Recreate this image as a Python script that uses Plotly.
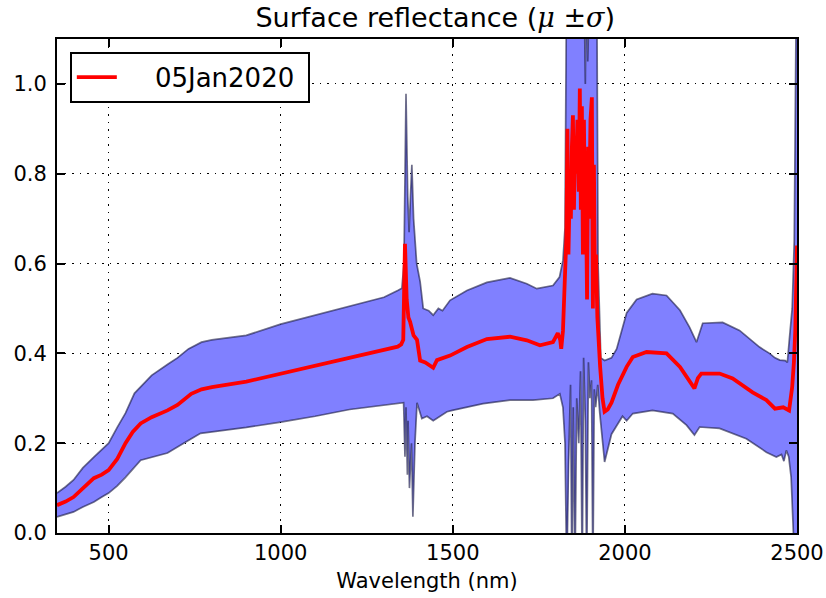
import plotly.graph_objects as go

# ---- data ----
wl_mean = [350, 375, 398, 425, 457, 480, 500, 525, 549, 570,
           593, 625, 671, 700, 740, 770, 800, 900, 1000, 1100,
           1200, 1300, 1340, 1350, 1356, 1361, 1366, 1371, 1376, 1386,
           1396, 1405, 1420, 1443, 1454, 1492, 1541, 1599, 1666, 1715,
           1753, 1791, 1805, 1812, 1815, 1820, 1825, 1830, 1833, 1836,
           1840, 1843, 1846, 1849, 1852, 1855, 1858, 1862, 1866, 1869,
           1872, 1875, 1878, 1881, 1884, 1887, 1890, 1893, 1896, 1900,
           1904, 1907, 1910, 1913, 1916, 1920, 1928, 1935, 1941, 1950,
           1961, 1980, 2005, 2023, 2063, 2121, 2160, 2188, 2202, 2212,
           2222, 2275, 2313, 2371, 2411, 2436, 2460, 2477, 2486, 2491,
           2495, 2500]
refl_mean = [0.062, 0.07, 0.08, 0.098, 0.122, 0.13, 0.14, 0.165, 0.2, 0.225,
             0.244, 0.258, 0.273, 0.285, 0.31, 0.32, 0.325, 0.337, 0.355, 0.372,
             0.39, 0.408, 0.415, 0.42, 0.43, 0.644, 0.52, 0.48, 0.47, 0.44,
             0.43, 0.384, 0.38, 0.368, 0.385, 0.395, 0.414, 0.432, 0.437, 0.429,
             0.418, 0.425, 0.445, 0.43, 0.41, 0.45, 0.55, 0.66, 0.9, 0.62,
             0.78, 0.7, 0.86, 0.93, 0.72, 0.88, 0.8, 0.92, 0.76, 0.99,
             0.72, 0.95, 0.62, 0.92, 0.66, 0.74, 0.52, 0.86, 0.7, 0.92,
             0.97, 0.5, 0.82, 0.55, 0.62, 0.48, 0.37, 0.3, 0.27, 0.275,
             0.29, 0.33, 0.37, 0.392, 0.403, 0.4, 0.37, 0.34, 0.322, 0.345,
             0.355, 0.355, 0.344, 0.313, 0.296, 0.277, 0.28, 0.273, 0.325, 0.38,
             0.45, 0.64]

wl_upper = [350, 375, 398, 425, 457, 480, 500, 525, 549, 575,
            625, 674, 700, 732, 770, 800, 900, 1000, 1100, 1200,
            1300, 1340, 1352, 1358, 1364, 1369, 1373, 1377, 1381, 1386,
            1395, 1405, 1414, 1430, 1443, 1458, 1470, 1492, 1541, 1599,
            1666, 1715, 1744, 1791, 1810, 1820, 1826, 1831, 1840, 1860,
            1880, 1885, 1888, 1892, 1900, 1918, 1922, 1930, 1941, 1961,
            1976, 2005, 2034, 2080, 2121, 2160, 2188, 2208, 2226, 2284,
            2333, 2391, 2420, 2436, 2450, 2466, 2472, 2480, 2486, 2492,
            2497, 2500]
refl_upper = [0.089, 0.103, 0.118, 0.145, 0.169, 0.185, 0.2, 0.235, 0.267, 0.311,
              0.351, 0.377, 0.39, 0.41, 0.425, 0.43, 0.44, 0.465, 0.485, 0.505,
              0.525, 0.54, 0.545, 0.6, 0.978, 0.75, 0.67, 0.75, 0.82, 0.7,
              0.6, 0.56, 0.5, 0.495, 0.485, 0.5, 0.495, 0.518, 0.54, 0.558,
              0.568, 0.555, 0.544, 0.551, 0.57, 0.607, 0.68, 1.3, 1.3, 1.3,
              1.3, 1.0, 1.3, 1.05, 1.3, 1.3, 0.6, 0.39, 0.384, 0.39,
              0.41, 0.49, 0.52, 0.533, 0.529, 0.496, 0.458, 0.425, 0.467, 0.469,
              0.451, 0.414, 0.4, 0.39, 0.385, 0.384, 0.38, 0.45, 0.5, 0.65,
              1.1, 1.4]

wl_lower = [350, 375, 398, 425, 457, 480, 500, 525, 549, 593,
            671, 718, 767, 800, 900, 1000, 1100, 1200, 1300, 1350,
            1357, 1361, 1364, 1368, 1370, 1374, 1380, 1384, 1390, 1396,
            1410, 1425, 1443, 1483, 1498, 1588, 1666, 1733, 1791, 1811,
            1820, 1826, 1831, 1836, 1842, 1846, 1850, 1855, 1860, 1866,
            1871, 1876, 1880, 1885, 1889, 1894, 1898, 1903, 1907, 1911,
            1915, 1921, 1927, 1941, 1961, 1993, 2005, 2023, 2080, 2139,
            2179, 2202, 2217, 2275, 2353, 2411, 2440, 2455, 2462, 2469,
            2476, 2483, 2490, 2500]
refl_lower = [0.036, 0.042, 0.047, 0.058, 0.069, 0.08, 0.089, 0.105, 0.124, 0.162,
              0.178, 0.2, 0.222, 0.225, 0.235, 0.247, 0.26, 0.275, 0.285, 0.29,
              0.29, 0.17, 0.28, 0.13, 0.25, 0.1, 0.2, 0.036, 0.2, 0.29,
              0.255, 0.26, 0.25, 0.27, 0.273, 0.288, 0.296, 0.296, 0.3, 0.31,
              0.28, 0.2, -0.1, 0.15, 0.33, -0.1, 0.28, -0.1, 0.3, 0.2,
              0.36, -0.1, 0.39, 0.25, -0.1, 0.38, 0.3, 0.34, -0.1, 0.32,
              0.28, 0.33, 0.267, 0.158, 0.22, 0.26, 0.25, 0.266, 0.273, 0.266,
              0.24, 0.218, 0.236, 0.233, 0.21, 0.18, 0.169, 0.175, 0.16, 0.184,
              0.17, 0.124, 0.0, -0.2]

x_ticks = [500, 1000, 1500, 2000, 2500]
y_ticks = [0.0, 0.2, 0.4, 0.6, 0.8, 1.0]
y_ticklabels = ["0.0", "0.2", "0.4", "0.6", "0.8", "1.0"]
legend_label = "05Jan2020"

FONT = "DejaVu Sans"

fig = go.Figure()

# sigma band (closed polygon upper -> reversed lower)
fig.add_trace(go.Scatter(
    x=wl_upper + wl_lower[::-1],
    y=refl_upper + refl_lower[::-1],
    fill="toself", fillcolor="rgb(128,128,255)",
    line=dict(width=0), mode="lines", showlegend=False, hoverinfo="skip"))

for wx, wy in ((wl_upper, refl_upper), (wl_lower, refl_lower)):
    fig.add_trace(go.Scatter(
        x=wx, y=wy, mode="lines",
        line=dict(color="rgba(20,20,60,0.6)", width=1.7),
        showlegend=False, hoverinfo="skip"))

fig.add_trace(go.Scatter(
    x=wl_mean, y=refl_mean, mode="lines",
    name="\u00a0\u00a0\u00a0\u00a0" + legend_label + "\u00a0",
    line=dict(color="#ff0000", width=3.8)))

axis_common = dict(
    showline=True, linecolor="black", linewidth=2, mirror="ticks",
    ticks="inside", ticklen=8, tickwidth=1.5, tickcolor="black",
    showgrid=True, gridcolor="black", gridwidth=1.3, griddash="1.5px,6px",
    zeroline=False, automargin=False,
    tickfont=dict(family=FONT, size=21, color="black"),
)

fig.update_xaxes(range=[350, 2500], tickvals=x_ticks,
                 title=dict(text="Wavelength (nm)",
                            font=dict(family=FONT, size=21, color="black"),
                            standoff=9),
                 **axis_common)
fig.update_yaxes(range=[0, 1.1], tickvals=y_ticks, ticktext=y_ticklabels,
                 ticklabelstandoff=4, **axis_common)

fig.update_layout(
    width=826, height=598,
    margin=dict(l=57, r=29, t=39, b=65),
    paper_bgcolor="white", plot_bgcolor="white",
    title=dict(
        text="Surface reflectance (<span style='font-family:DejaVu Serif'><i>\u03bc</i> \u00b1<i>\u03c3</i></span>)",
        font=dict(family=FONT, size=27, color="black"),
        x=0.527, xanchor="center", y=0.971, yanchor="middle", yref="container"),
    legend=dict(x=0.0176, y=0.974, xanchor="left", yanchor="top",
                bgcolor="white", bordercolor="black", borderwidth=1.8,
                font=dict(family=FONT, size=26, color="black"),
                itemwidth=40, tracegroupgap=0),
    showlegend=True,
)

fig.write_html("out.html",
               config={"displayModeBar": False},
               post_script="document.body.style.margin='0';"
                           "document.body.style.overflow='hidden';")
